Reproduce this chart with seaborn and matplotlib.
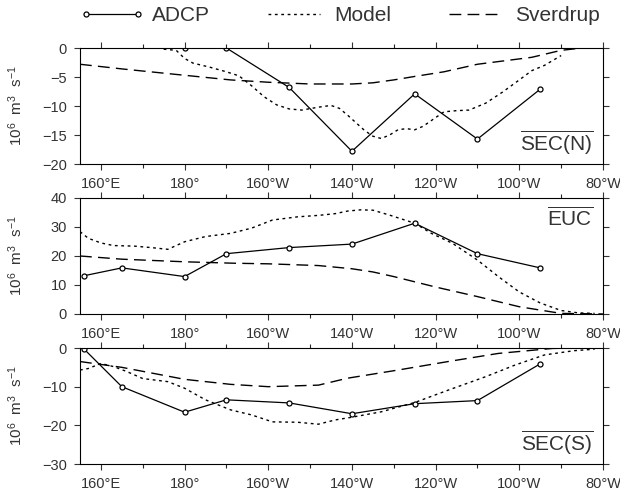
import numpy as np
import pandas as pd
import matplotlib
matplotlib.use("Agg")
import matplotlib.pyplot as plt
from matplotlib.lines import Line2D
import seaborn as sns

# ---------------- data (longitude in degrees east) ----------------
xticks = [160, 180, 200, 220, 240, 260, 280]
xticklabels = ["160°E", "180°", "160°W", "140°W", "120°W", "100°W", "80°W"]

adcp_n_lon = [180, 190, 205, 220, 235, 250, 265]
adcp_n_val = [0.0, 0.0, -6.8, -17.8, -7.9, -15.7, -7.1]

adcp_lon = [156, 165, 180, 190, 205, 220, 235, 250, 265]
adcp_euc_val = [13.2, 15.9, 12.9, 20.8, 22.9, 24.1, 31.3, 20.8, 15.9]
adcp_s_val = [-0.3, -10.0, -16.6, -13.4, -14.2, -17.0, -14.4, -13.6, -4.1]

model_n_lon = [175, 178, 180, 182, 186, 190, 193, 196, 199, 202, 205, 208, 212, 215,
               217, 219, 221, 223, 225, 227, 229, 231, 233, 235, 237, 239, 242, 245,
               248, 252, 256, 260, 263, 266, 270]
model_n_val = [-0.2, -0.4, -1.8, -2.6, -3.3, -4.1, -4.8, -6.5, -8.4, -9.8, -10.5, -10.7,
               -10.2, -9.9, -10.4, -11.6, -12.9, -14.2, -15.2, -15.6, -15.0, -14.1, -13.9,
               -14.1, -13.5, -12.5, -11.0, -10.8, -10.7, -9.5, -7.6, -5.5, -3.9, -3.0, -1.3]

sverd_n_lon = [155, 165, 180, 191, 200, 210, 220, 225, 230, 235, 242, 250, 263, 270, 275, 280]
sverd_n_val = [-2.8, -3.6, -4.7, -5.5, -5.9, -6.2, -6.2, -6.0, -5.5, -4.9, -4.1, -2.8,
               -1.6, -0.4, 0.0, 0.0]

model_euc_lon = [155, 157, 160, 163, 168, 172, 176, 180, 185, 191, 196, 201, 207, 212,
                 216, 219, 222, 225, 229, 232, 235, 239, 244, 250, 255, 260, 265, 270, 274, 278]
model_euc_val = [28.4, 26.1, 24.5, 23.6, 23.4, 22.9, 22.3, 24.9, 26.7, 27.8, 29.6, 32.4,
                 33.5, 34.0, 34.6, 35.5, 35.9, 35.8, 34.1, 32.7, 31.3, 27.8, 24.4, 18.6,
                 12.9, 7.6, 3.8, 1.2, 0.4, 0.2]

sverd_euc_lon = [155, 165, 180, 192, 200, 212, 220, 225, 230, 240, 250, 260, 270, 280]
sverd_euc_val = [20.0, 18.9, 18.0, 17.5, 17.3, 16.7, 15.6, 14.5, 12.9, 9.3, 6.0, 2.5, 0.2, 0.0]

model_s_lon = [155, 157, 160, 163, 166, 170, 176, 180, 185, 191, 196, 201, 207, 212, 216,
               220, 227, 235, 243, 252, 259, 266, 273, 278]
model_s_val = [-5.7, -5.3, -4.0, -4.8, -6.0, -7.9, -8.7, -10.4, -13.4, -16.0, -17.3, -19.1,
               -19.2, -19.7, -18.6, -17.9, -16.5, -14.1, -10.9, -7.4, -4.4, -1.8, -0.7, -0.3]

sverd_s_lon = [155, 165, 180, 191, 200, 212, 219, 231, 243, 255, 268, 280]
sverd_s_val = [-3.5, -5.0, -8.1, -9.4, -10.0, -9.6, -7.8, -5.7, -3.5, -1.4, -0.1, 0.0]

panel_names = [r"$\overline{\mathrm{SEC(N)}}$", r"$\overline{\mathrm{EUC}}$",
               r"$\overline{\mathrm{SEC(S)}}$"]
ylims = [(-20, 0), (0, 40), (-30, 0)]
yticks = [[-20, -15, -10, -5, 0], [0, 10, 20, 30, 40], [-30, -20, -10, 0]]
series_labels = ["ADCP", "Model", "Sverdrup"]

# ---------------- style ----------------
sns.set_style("ticks")
plt.rcParams["font.family"] = ["Liberation Sans", "DejaVu Sans"]
plt.rcParams["mathtext.fontset"] = "custom"
plt.rcParams["mathtext.rm"] = "Liberation Sans"
plt.rcParams["mathtext.it"] = "Liberation Sans"
plt.rcParams["axes.unicode_minus"] = True

TXT = "#333333"
DOT = (0, (2.0, 2.6))
DASH = (0, (8.5, 4.5))

fig = plt.figure(figsize=(6.2, 4.93), dpi=100)
left, width, height = 0.129, 0.8435, 0.2353
bottoms = [0.6673, 0.3631, 0.0588]
axes = [fig.add_axes([left, b, width, height]) for b in bottoms]

panels = [
    (adcp_n_lon, adcp_n_val, model_n_lon, model_n_val, sverd_n_lon, sverd_n_val),
    (adcp_lon, adcp_euc_val, model_euc_lon, model_euc_val, sverd_euc_lon, sverd_euc_val),
    (adcp_lon, adcp_s_val, model_s_lon, model_s_val, sverd_s_lon, sverd_s_val),
]

for i, (ax, (ax_x, ax_y, m_x, m_y, s_x, s_y)) in enumerate(zip(axes, panels)):
    sns.lineplot(x=s_x, y=s_y, ax=ax, color="black", lw=1.0, linestyle=DASH,
                 estimator=None, sort=False)
    sns.lineplot(x=m_x, y=m_y, ax=ax, color="black", lw=1.0, linestyle=DOT,
                 estimator=None, sort=False)
    sns.lineplot(x=ax_x, y=ax_y, ax=ax, color="black", lw=0.9, marker="o",
                 markersize=3.6, markerfacecolor="white", markeredgecolor="black",
                 markeredgewidth=0.9, estimator=None, sort=False)
    ax.set_xlim(155, 280)
    ax.set_ylim(*ylims[i])
    ax.set_xticks(xticks)
    ax.set_xticklabels(xticklabels)
    ax.set_xticks([170, 190, 210, 230, 250, 270], minor=True)
    ax.set_yticks(yticks[i])
    for sp in ax.spines.values():
        sp.set_visible(True)
        sp.set_linewidth(0.8)
        sp.set_color("black")
    ax.tick_params(axis="x", which="major", direction="out", top=True, bottom=True,
                   length=4.5, width=0.8, labelsize=10.5, pad=5, colors=TXT)
    ax.tick_params(axis="x", which="minor", direction="out", top=True, bottom=True,
                   length=3, width=0.8)
    ax.tick_params(axis="y", which="major", direction="out", left=True, right=True,
                   length=4.5, width=0.8, labelsize=10.5, pad=5, colors=TXT)
    ax.set_ylabel(r"10$^{6}$  m$^{3}$  s$^{-1}$", fontsize=11, color=TXT, labelpad=6)
    ax.yaxis.set_label_coords(-0.105, 0.5)
    if i == 1:
        ax.text(0.982, 0.93, panel_names[i], transform=ax.transAxes, ha="right",
                va="top", fontsize=15, color=TXT)
    else:
        ax.text(0.982, 0.06, panel_names[i], transform=ax.transAxes, ha="right",
                va="bottom", fontsize=15, color=TXT)

handles = [
    Line2D([], [], color="black", lw=0.9, marker="o", markersize=3.6,
           markerfacecolor="white", markeredgecolor="black", markeredgewidth=0.9),
    Line2D([], [], color="black", lw=1.0, linestyle=DOT),
    Line2D([], [], color="black", lw=1.0, linestyle=DASH),
]
fig.legend(handles, series_labels, loc="center", bbox_to_anchor=(0.548, 0.968),
           ncol=3, frameon=False, numpoints=2, handlelength=3.1, handletextpad=0.35,
           columnspacing=2.5, prop={"size": 15}, labelcolor=TXT)

fig.savefig("out.png", dpi=100)
